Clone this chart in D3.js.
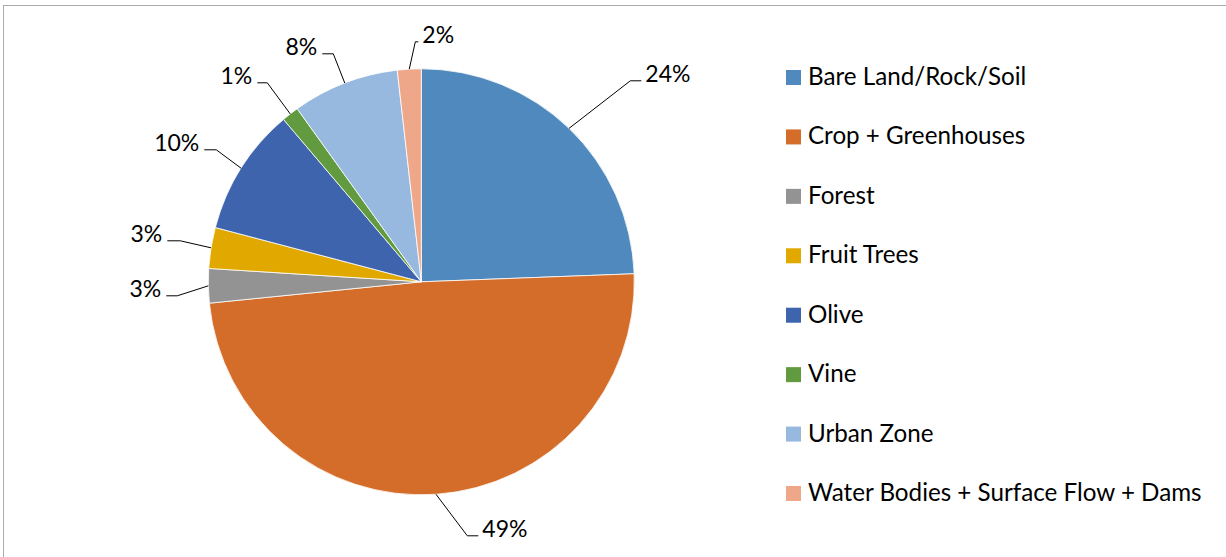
<!DOCTYPE html>
<html>
<head>
<meta charset="utf-8">
<script src="https://cdn.jsdelivr.net/npm/d3@7"></script>
<style>
  html, body { margin: 0; padding: 0; background: #fff; }
  svg { display: block; }
  text { font-family: Lato, "Open Sans", sans-serif; fill: #000; }
</style>
</head>
<body>
<svg id="chart" width="1226" height="557"></svg>
<script>
// ---- data ----
const categories = ["Bare Land/Rock/Soil", "Crop + Greenhouses", "Forest", "Fruit Trees", "Olive", "Vine", "Urban Zone", "Water Bodies + Surface Flow + Dams"];
const values = [24.4, 49.0, 2.6, 3.1, 9.7, 1.3, 8.1, 1.8];
const colors = ["#4F89BD", "#D46D29", "#939393", "#E1A900", "#3E64AD", "#629A3F", "#97B8DF", "#EFA78A"];

// ---- layout (label elbows, relative to pie centre) ----
const labelLayout = [
  { ex: 209, ey: -201, side: "right", hx: 11 },
  { ex: 46, ey: 254, side: "right", hx: 11 },
  { ex: -244, ey: 14, side: "left", hx: 11 },
  { ex: -241, ey: -41, side: "left", hx: 13 },
  { ex: -205, ey: -132, side: "left", hx: 12 },
  { ex: -154, ey: -199, side: "left", hx: 10 },
  { ex: -88, ey: -228, side: "left", hx: 11 },
  { ex: -6, ey: -240, side: "right", hx: 3 }
];

const svg = d3.select("#chart");

// outer frame
svg.append("rect").attr("x", 3.5).attr("y", 5.5).attr("width", 1240).attr("height", 570)
  .attr("fill", "none").attr("stroke", "#ababab").attr("stroke-width", 1);

const cx = 421.3, cy = 281.8, R = 213;
const total = d3.sum(values);

const pie = d3.pie().sort(null).value(d => d)(values);
const arc = d3.arc().innerRadius(0).outerRadius(R);

const g = svg.append("g").attr("transform", `translate(${cx},${cy})`);
g.selectAll("path.slice").data(pie).join("path")
  .attr("class", "slice")
  .attr("d", arc)
  .attr("fill", (d, i) => colors[i])
  .attr("stroke", "#fff").attr("stroke-width", 0.8).attr("stroke-linejoin", "round");

// labels with leader lines
const fmt = v => Math.round(v / total * 100) + "%";
pie.forEach((d, i) => {
  const L = labelLayout[i];
  const mid = (d.startAngle + d.endAngle) / 2;
  const px = R * Math.sin(mid), py = -R * Math.cos(mid);
  const hx2 = L.side === "right" ? L.ex + L.hx : L.ex - L.hx;
  g.append("polyline")
    .attr("points", [[px, py], [L.ex, L.ey], [hx2, L.ey]].map(p => p.join(",")).join(" "))
    .attr("fill", "none").attr("stroke", "#000").attr("stroke-width", 1);
  g.append("text")
    .attr("x", L.side === "right" ? hx2 + 4 : hx2 - 5)
    .attr("y", L.ey - 8)
    .attr("text-anchor", L.side === "right" ? "start" : "end")
    .attr("dominant-baseline", "central")
    .attr("font-size", 23)
    .text(fmt(values[i]));
});

// legend
const legend = svg.append("g");
const ly = d3.scalePoint().domain(categories).range([77.5, 493.5]);
categories.forEach((c, i) => {
  legend.append("rect").attr("x", 786).attr("y", ly(c) - 7.5).attr("width", 15).attr("height", 15)
    .attr("fill", colors[i]);
  legend.append("text").attr("x", 808).attr("y", ly(c) + 7.5)
    .attr("font-size", 24.2).text(c);
});
</script>
</body>
</html>
